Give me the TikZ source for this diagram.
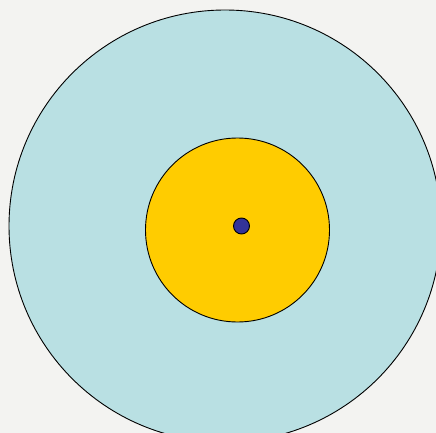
\documentclass[tikz,border=0pt]{standalone}
\definecolor{bgc}{HTML}{F3F3F1}
\definecolor{outerc}{HTML}{B9E0E3}
\definecolor{innerc}{HTML}{FFCC00}
\definecolor{dotc}{HTML}{333399}
\begin{document}
\begin{tikzpicture}[x=1pt,y=-1pt,
  ring/.style={circle,draw=black,line width=0.9pt,inner sep=0pt}]
\fill[bgc] (0,0) rectangle (436,433);
\useasboundingbox (0,0) rectangle (436,433);
\begin{scope}
\clip (0,0) rectangle (436,433);
\node[ring,fill=outerc,minimum size=432pt] (outer) at (225,226) {};
\end{scope}
\node[ring,fill=innerc,minimum size=184pt] (inner) at (237.5,230) {};
\node[ring,fill=dotc,minimum size=16pt] (dot) at (241.5,226) {};
\end{tikzpicture}
\end{document}
